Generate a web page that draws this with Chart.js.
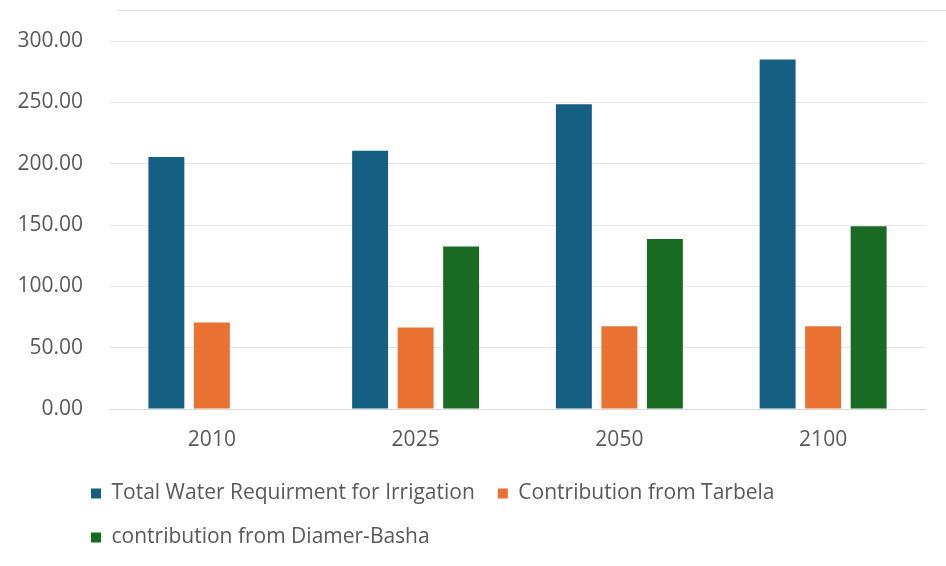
<!DOCTYPE html>
<html>
<head>
<meta charset="utf-8">
<script src="https://cdn.jsdelivr.net/npm/chart.js@4.4.1/dist/chart.umd.min.js"></script>
<style>
    html, body {
        margin: 0;
        padding: 0;
        background: #FFFFFF;
    }
    .wrap {
        position: relative;
        width: 946px;
        height: 566px;
    }
    /* dünne Linie oben (Rahmen des Diagramms) */
    .top-line {
        position: absolute;
        left: 117px;
        top: 10px;
        width: 829px;
        height: 1px;
        background: #E4E4E4;
    }
</style>
</head>
<body>
<div class="wrap">
    <div class="top-line"></div>
    <canvas id="waterChart" width="946" height="566"></canvas>
</div>
<script>
// Daten
const years = ['2010', '2025', '2050', '2100'];
const totalIrrigation = [205.5, 210.5, 248.5, 285.0];
const tarbela = [70.5, 66.5, 67.5, 67.5];
const diamerBasha = [null, 132.5, 138.5, 149.0];

const textColor = '#595959';
const fontFamily = '"Open Sans", "Liberation Sans", Arial, sans-serif';

// Legende nach rechts verschieben (Zeilen beginnen links bei ca. 78px)
const legendShift = {
    id: 'legendShift',
    afterLayout(chart) {
        if (chart.legend) {
            chart.legend.left += 68;
        }
    }
};

const ctx = document.getElementById('waterChart').getContext('2d');
new Chart(ctx, {
    type: 'bar',
    data: {
        labels: years,
        datasets: [
            {
                label: 'Total Water Requirment for Irrigation',
                data: totalIrrigation,
                backgroundColor: '#156082'
            },
            {
                label: 'Contribution from Tarbela',
                data: tarbela,
                backgroundColor: '#E97132'
            },
            {
                label: 'contribution from Diamer-Basha',
                data: diamerBasha,
                backgroundColor: '#196B24'
            }
        ]
    },
    options: {
        responsive: false,
        animation: false,
        categoryPercentage: 0.67,
        barPercentage: 0.79,
        layout: {
            padding: { left: 0, right: 21, top: 41, bottom: 8 }
        },
        plugins: {
            tooltip: { enabled: false },
            legend: {
                position: 'bottom',
                align: 'start',
                labels: {
                    color: textColor,
                    boxWidth: 10,
                    boxHeight: 10,
                    padding: 23,
                    font: { family: fontFamily, size: 21 }
                }
            }
        },
        scales: {
            x: {
                grid: { display: false, drawTicks: false },
                border: { display: true, color: '#D9D9D9' },
                ticks: {
                    color: textColor,
                    padding: 18,
                    font: { family: fontFamily, size: 21 }
                },
                afterFit: (scale) => { scale.height = 51; }
            },
            y: {
                min: 0,
                max: 300,
                grid: { color: '#E6E6E6', drawTicks: false },
                border: { display: false },
                ticks: {
                    stepSize: 50,
                    color: textColor,
                    padding: 27,
                    font: { family: fontFamily, size: 21 },
                    callback: (v) => v.toFixed(2)
                },
                afterFit: (scale) => { scale.width = 110; }
            }
        }
    },
    plugins: [legendShift]
});
</script>
</body>
</html>
